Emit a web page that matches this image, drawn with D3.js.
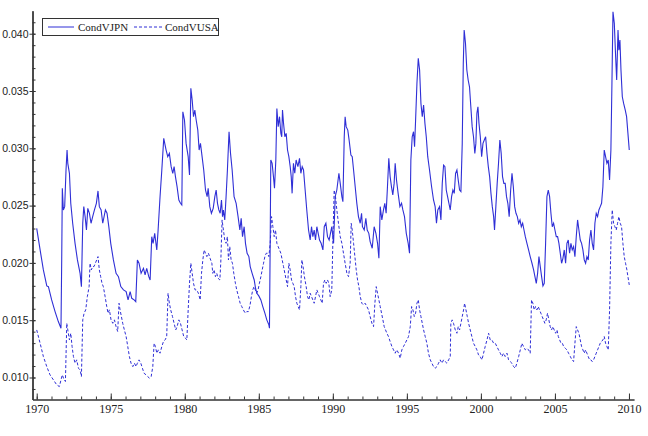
<!DOCTYPE html>
<html><head><meta charset="utf-8">
<script src="https://cdn.jsdelivr.net/npm/d3@7"></script>
<style>body{margin:0;background:#fff}svg{display:block}</style>
</head><body><svg id="c" width="648" height="436"></svg>
<script>
const seriesNames = ["CondVJPN", "CondVUSA"];
const xTickYears = [1970, 1975, 1980, 1985, 1990, 1995, 2000, 2005, 2010];
const yTickValues = [0.010, 0.015, 0.020, 0.025, 0.030, 0.035, 0.040];

const condVJPN = [
[1970.00,0.02302],[1970.23,0.02113],[1970.45,0.01939],[1970.68,0.01799],[1970.79,0.01793],[1971.01,0.01677],[1971.24,0.01575],[1971.46,0.01488],[1971.64,0.01430],[1971.69,0.02040],[1971.73,0.02651],[1971.80,0.02462],[1971.89,0.02491],[1971.98,0.02811],[1972.05,0.02985],[1972.10,0.02869],[1972.21,0.02782],[1972.30,0.02520],[1972.43,0.02346],[1972.59,0.02171],[1972.75,0.02026],[1972.93,0.01909],[1973.02,0.01793],
[1973.11,0.02346],[1973.18,0.02491],[1973.27,0.02404],[1973.36,0.02287],[1973.45,0.02476],[1973.56,0.02433],[1973.67,0.02346],[1973.78,0.02404],[1973.90,0.02462],[1974.03,0.02520],[1974.14,0.02628],[1974.23,0.02491],[1974.35,0.02462],[1974.46,0.02346],[1974.55,0.02404],[1974.64,0.02462],[1974.75,0.02433],[1974.87,0.02316],[1975.00,0.02171],[1975.18,0.02026],[1975.36,0.01909],[1975.52,0.01880],[1975.68,0.01793],[1975.86,0.01764],[1976.04,0.01750],[1976.17,0.01677],[1976.31,0.01750],[1976.42,0.01691],[1976.58,0.01677],[1976.69,0.01662],
[1976.80,0.02026],[1976.91,0.01997],[1977.05,0.01909],[1977.21,0.01953],[1977.32,0.01895],[1977.43,0.01953],[1977.57,0.01880],[1977.66,0.01851],[1977.77,0.02229],[1977.86,0.02171],[1977.97,0.02258],[1978.11,0.02113],[1978.20,0.02287],[1978.33,0.02578],[1978.45,0.02811],[1978.58,0.03087],[1978.74,0.02985],[1978.85,0.02927],[1978.96,0.02956],[1979.08,0.02840],[1979.19,0.02782],[1979.28,0.02840],[1979.37,0.02753],[1979.48,0.02665],[1979.60,0.02549],[1979.71,0.02520],[1979.80,0.02505],
[1979.87,0.03319],[1979.98,0.03247],[1980.09,0.03043],[1980.23,0.02927],[1980.32,0.02767],[1980.41,0.03523],[1980.50,0.03421],[1980.59,0.03276],[1980.68,0.03334],[1980.77,0.03247],[1980.88,0.03159],[1980.97,0.02985],[1981.06,0.03043],[1981.17,0.02927],[1981.28,0.02811],[1981.40,0.02636],[1981.51,0.02578],[1981.58,0.02651],[1981.69,0.02491],[1981.80,0.02433],[1981.92,0.02476],[1982.03,0.02578],[1982.12,0.02636],[1982.21,0.02520],[1982.30,0.02462],[1982.39,0.02433],[1982.48,0.02549],[1982.55,0.02404],[1982.61,0.02462],[1982.70,0.02375],[1982.79,0.02578],[1982.88,0.02811],[1982.99,0.03145],
[1983.09,0.02956],[1983.20,0.02811],[1983.33,0.02578],[1983.47,0.02520],[1983.60,0.02404],[1983.72,0.02287],[1983.81,0.02389],[1983.90,0.02229],[1984.01,0.02316],[1984.10,0.02171],[1984.21,0.02084],[1984.33,0.02055],[1984.42,0.01968],[1984.55,0.01909],[1984.69,0.01851],[1984.78,0.01779],[1984.87,0.01735],[1985.00,0.01712],[1985.14,0.01677],[1985.27,0.01619],[1985.41,0.01561],[1985.54,0.01503],[1985.68,0.01459],[1985.72,0.01430],
[1985.77,0.02200],[1985.81,0.02898],[1985.90,0.02869],[1985.99,0.02753],[1986.06,0.02651],[1986.15,0.02898],[1986.22,0.03348],[1986.31,0.03189],[1986.40,0.03276],[1986.49,0.03130],[1986.55,0.03101],[1986.60,0.03334],[1986.67,0.03218],[1986.76,0.03101],[1986.85,0.03130],[1986.94,0.02985],[1987.03,0.02927],[1987.12,0.02840],[1987.19,0.02753],[1987.25,0.02607],[1987.34,0.02869],[1987.43,0.02782],[1987.52,0.02898],[1987.64,0.02840],[1987.75,0.02912],[1987.84,0.02782],[1987.93,0.02840],[1988.02,0.02811],[1988.13,0.02636],[1988.24,0.02462],[1988.36,0.02287],[1988.47,0.02200],[1988.56,0.02316],[1988.65,0.02229],[1988.74,0.02287],[1988.83,0.02200],[1988.92,0.02316],[1989.01,0.02258],[1989.10,0.02200],[1989.21,0.02171],[1989.33,0.02113],[1989.42,0.02316],[1989.53,0.02346],[1989.64,0.02229],[1989.75,0.02200],
[1989.93,0.02316],[1990.05,0.02171],[1990.16,0.02578],[1990.27,0.02636],[1990.41,0.02782],[1990.50,0.02694],[1990.61,0.02578],[1990.68,0.02534],[1990.77,0.03101],[1990.83,0.03276],[1990.90,0.03189],[1991.01,0.03159],[1991.10,0.03072],[1991.22,0.02941],[1991.31,0.02927],[1991.40,0.02811],[1991.51,0.02665],[1991.62,0.02520],[1991.73,0.02404],[1991.85,0.02346],[1991.94,0.02433],[1992.00,0.02316],[1992.12,0.02287],[1992.23,0.02389],[1992.32,0.02287],[1992.43,0.02258],[1992.52,0.02186],[1992.66,0.02128],[1992.79,0.02316],[1992.91,0.02258],[1993.02,0.02171],[1993.11,0.02040],
[1993.20,0.02491],[1993.31,0.02375],[1993.42,0.02462],[1993.51,0.02520],[1993.60,0.02433],[1993.69,0.02665],[1993.78,0.02912],[1993.87,0.02753],[1993.96,0.02665],[1994.05,0.02593],[1994.14,0.02694],[1994.21,0.02869],[1994.30,0.02723],[1994.41,0.02607],[1994.53,0.02491],[1994.64,0.02520],[1994.73,0.02462],[1994.84,0.02404],[1994.96,0.02258],[1995.09,0.02171],[1995.18,0.02084],
[1995.27,0.02898],[1995.36,0.03101],[1995.45,0.03145],[1995.52,0.03014],[1995.59,0.03247],[1995.68,0.03566],[1995.77,0.03785],[1995.86,0.03683],[1995.95,0.03392],[1996.04,0.03276],[1996.13,0.03377],[1996.22,0.03218],[1996.31,0.03101],[1996.41,0.02927],[1996.53,0.02811],[1996.67,0.02665],[1996.80,0.02549],[1996.91,0.02491],[1997.00,0.02346],[1997.09,0.02462],[1997.21,0.02491],[1997.30,0.02375],[1997.39,0.02694],[1997.48,0.02854],[1997.57,0.02840],[1997.66,0.02636],[1997.75,0.02578],[1997.84,0.02520],[1997.93,0.02462],[1998.02,0.02578],[1998.11,0.02636],[1998.20,0.02607],[1998.29,0.02782],[1998.38,0.02811],[1998.47,0.02723],[1998.56,0.02636],[1998.65,0.02622],
[1998.74,0.03043],[1998.81,0.03741],[1998.87,0.04032],[1998.96,0.03915],[1999.05,0.03683],[1999.14,0.03596],[1999.23,0.03537],[1999.32,0.03363],[1999.41,0.03189],[1999.50,0.03101],[1999.59,0.02956],[1999.66,0.03043],[1999.73,0.03305],[1999.80,0.03363],[1999.87,0.03218],[1999.96,0.03101],[2000.05,0.02927],[2000.14,0.03043],[2000.23,0.03072],[2000.32,0.03101],[2000.41,0.02956],[2000.50,0.02840],[2000.59,0.02753],[2000.68,0.02607],[2000.77,0.02491],[2000.86,0.02404],[2000.92,0.02287],[2001.01,0.02491],[2001.10,0.02694],[2001.19,0.02869],[2001.28,0.03072],[2001.37,0.02956],[2001.46,0.02753],[2001.55,0.02694],[2001.64,0.02694],[2001.73,0.02578],[2001.82,0.02520],[2001.91,0.02404],[2002.01,0.02636],[2002.10,0.02782],[2002.19,0.02665],[2002.28,0.02491],[2002.37,0.02433],[2002.46,0.02404],[2002.55,0.02346],[2002.64,0.02375],[2002.73,0.02316],[2002.82,0.02346],[2002.91,0.02287],
[2003.00,0.02229],[2003.11,0.02171],[2003.22,0.02113],[2003.33,0.02055],[2003.45,0.01997],[2003.56,0.01939],[2003.65,0.01880],[2003.74,0.01822],[2003.83,0.01909],[2003.92,0.02055],[2004.01,0.01968],[2004.10,0.01880],[2004.19,0.01799],[2004.28,0.01822],[2004.37,0.02171],[2004.46,0.02578],[2004.55,0.02636],[2004.64,0.02578],[2004.73,0.02433],[2004.82,0.02316],[2004.91,0.02346],[2005.00,0.02287],[2005.09,0.02229],[2005.18,0.02229],[2005.27,0.02171],[2005.36,0.02084],[2005.45,0.01997],[2005.54,0.02040],[2005.63,0.02113],[2005.72,0.01997],[2005.81,0.02171],[2005.90,0.02200],[2005.99,0.02084],[2006.08,0.02171],[2006.17,0.02113],[2006.26,0.02142],[2006.35,0.02055],[2006.44,0.02229],[2006.53,0.02375],[2006.62,0.02287],[2006.71,0.02200],[2006.80,0.02171],[2006.89,0.02113],[2006.98,0.02026],[2007.07,0.01997],[2007.16,0.02055],[2007.25,0.02026],[2007.34,0.02200],[2007.43,0.02287],[2007.52,0.02171],[2007.61,0.02113],[2007.70,0.02346],[2007.79,0.02433],[2007.88,0.02404],[2007.97,0.02462],
[2008.06,0.02491],[2008.15,0.02520],[2008.24,0.02665],[2008.33,0.02985],[2008.42,0.02927],[2008.51,0.02869],[2008.60,0.02898],[2008.69,0.02723],[2008.78,0.02985],[2008.85,0.03566],[2008.92,0.04191],[2009.01,0.04090],[2009.10,0.03799],[2009.17,0.03596],[2009.26,0.04032],[2009.32,0.03857],[2009.39,0.03944],[2009.46,0.03683],[2009.55,0.03450],[2009.64,0.03392],[2009.75,0.03334],[2009.84,0.03276],[2009.93,0.03130],[2010.02,0.02985]
];

const condVUSA = [
[1970.00,0.01415],[1970.23,0.01299],[1970.45,0.01183],[1970.68,0.01095],[1970.90,0.01023],[1971.13,0.00979],[1971.35,0.00936],[1971.53,0.00921],[1971.64,0.00979],[1971.73,0.01023],[1971.85,0.00979],[1971.94,0.00965],[1972.03,0.01473],[1972.10,0.01415],[1972.21,0.01328],[1972.30,0.01386],[1972.39,0.01270],[1972.48,0.01183],[1972.59,0.01125],[1972.70,0.01154],[1972.82,0.01081],[1972.93,0.01066],[1973.02,0.01008],
[1973.11,0.01503],[1973.20,0.01561],[1973.31,0.01590],[1973.42,0.01706],[1973.54,0.01793],[1973.60,0.01997],[1973.69,0.01939],[1973.78,0.01968],[1973.87,0.01968],[1973.96,0.01997],[1974.05,0.02026],[1974.14,0.02055],[1974.23,0.01939],[1974.32,0.01880],[1974.41,0.01822],[1974.50,0.01793],[1974.62,0.01706],[1974.73,0.01619],[1974.82,0.01561],[1974.91,0.01590],[1975.02,0.01503],[1975.14,0.01473],[1975.25,0.01503],[1975.36,0.01444],[1975.47,0.01401],[1975.56,0.01648],[1975.63,0.01590],[1975.72,0.01532],[1975.81,0.01473],[1975.92,0.01415],
[1976.04,0.01357],[1976.15,0.01270],[1976.26,0.01183],[1976.37,0.01125],[1976.49,0.01095],[1976.60,0.01125],[1976.71,0.01095],[1976.80,0.01125],[1976.91,0.01154],[1977.03,0.01125],[1977.14,0.01081],[1977.25,0.01037],[1977.39,0.01023],[1977.50,0.01008],[1977.61,0.00994],[1977.73,0.01008],[1977.84,0.01095],[1977.93,0.01299],[1978.02,0.01270],[1978.11,0.01212],[1978.22,0.01241],[1978.33,0.01212],[1978.45,0.01270],[1978.56,0.01314],[1978.67,0.01328],[1978.78,0.01357],[1978.87,0.01735],[1978.96,0.01648],[1979.05,0.01590],[1979.17,0.01532],[1979.28,0.01473],[1979.39,0.01415],[1979.48,0.01444],[1979.60,0.01503],[1979.71,0.01473],[1979.82,0.01415],[1979.93,0.01357],
[1980.05,0.01343],[1980.14,0.01328],[1980.23,0.01590],[1980.32,0.01822],[1980.41,0.01997],[1980.50,0.01909],[1980.59,0.01822],[1980.70,0.01764],[1980.81,0.01764],[1980.92,0.01735],[1981.04,0.01677],[1981.13,0.01909],[1981.22,0.02026],[1981.31,0.02113],[1981.40,0.02084],[1981.49,0.02055],[1981.60,0.02084],[1981.71,0.02040],[1981.83,0.01997],[1981.89,0.01909],[1981.98,0.01939],[1982.07,0.01880],[1982.16,0.01909],[1982.25,0.01866],[1982.37,0.01851],[1982.43,0.01997],[1982.52,0.02375],[1982.61,0.02287],[1982.70,0.02200],[1982.79,0.02171],[1982.88,0.02229],[1982.95,0.02026],
[1983.04,0.02142],[1983.13,0.02026],[1983.22,0.01997],[1983.31,0.01909],[1983.42,0.01822],[1983.51,0.01764],[1983.63,0.01706],[1983.74,0.01648],[1983.85,0.01619],[1983.96,0.01590],[1984.08,0.01561],[1984.19,0.01575],[1984.30,0.01575],[1984.41,0.01633],[1984.50,0.01706],[1984.59,0.01764],[1984.68,0.01793],[1984.77,0.01764],[1984.86,0.01735],[1984.95,0.01764],[1985.04,0.01822],[1985.14,0.01880],[1985.23,0.01939],[1985.32,0.01997],[1985.41,0.02055],[1985.50,0.02084],[1985.59,0.02084],[1985.68,0.02055],[1985.77,0.02171],[1985.86,0.02404],[1985.95,0.02316],
[1986.04,0.02229],[1986.13,0.02287],[1986.22,0.02171],[1986.31,0.02142],[1986.40,0.02113],[1986.49,0.02084],[1986.58,0.02026],[1986.67,0.01968],[1986.76,0.01909],[1986.85,0.01851],[1986.94,0.01793],[1987.03,0.01997],[1987.12,0.01939],[1987.21,0.01851],[1987.30,0.01822],[1987.39,0.01793],[1987.48,0.01706],[1987.57,0.01648],[1987.66,0.01619],[1987.75,0.01590],[1987.84,0.01793],[1987.91,0.02026],[1987.99,0.01968],[1988.08,0.01880],[1988.20,0.01793],[1988.29,0.01706],[1988.38,0.01677],[1988.47,0.01735],[1988.56,0.01706],[1988.65,0.01677],[1988.74,0.01648],[1988.83,0.01706],[1988.92,0.01764],[1989.01,0.01735],[1989.10,0.01706],[1989.19,0.01677],[1989.28,0.01648],[1989.37,0.01822],[1989.46,0.01851],[1989.55,0.01822],[1989.64,0.01851],[1989.73,0.01822],
[1989.82,0.01706],[1989.93,0.01764],[1990.00,0.02171],[1990.09,0.02636],[1990.18,0.02578],[1990.27,0.02462],[1990.38,0.02346],[1990.50,0.02229],[1990.61,0.02171],[1990.72,0.02084],[1990.83,0.01997],[1990.95,0.01909],[1991.06,0.01880],[1991.17,0.01997],[1991.24,0.02346],[1991.31,0.02287],[1991.40,0.02171],[1991.49,0.02055],[1991.58,0.01939],[1991.67,0.01851],[1991.76,0.01793],[1991.85,0.01706],[1991.96,0.01648],[1992.07,0.01633],[1992.18,0.01648],[1992.30,0.01619],[1992.41,0.01590],[1992.52,0.01532],[1992.64,0.01473],[1992.75,0.01444],[1992.84,0.01648],[1992.93,0.01793],
[1993.02,0.01735],[1993.11,0.01677],[1993.20,0.01619],[1993.29,0.01561],[1993.38,0.01503],[1993.47,0.01444],[1993.56,0.01415],[1993.65,0.01386],[1993.76,0.01357],[1993.87,0.01314],[1993.99,0.01270],[1994.10,0.01241],[1994.21,0.01212],[1994.32,0.01241],[1994.44,0.01212],[1994.55,0.01168],[1994.66,0.01241],[1994.77,0.01270],[1994.89,0.01299],[1995.00,0.01328],[1995.11,0.01357],[1995.23,0.01444],[1995.32,0.01619],[1995.41,0.01590],[1995.50,0.01532],[1995.59,0.01561],[1995.68,0.01648],[1995.77,0.01677],[1995.86,0.01590],[1995.95,0.01532],
[1996.04,0.01473],[1996.13,0.01415],[1996.24,0.01357],[1996.35,0.01299],[1996.46,0.01212],[1996.58,0.01154],[1996.69,0.01125],[1996.80,0.01095],[1996.91,0.01081],[1997.03,0.01095],[1997.14,0.01125],[1997.25,0.01154],[1997.37,0.01125],[1997.48,0.01154],[1997.59,0.01139],[1997.70,0.01125],[1997.82,0.01154],[1997.93,0.01183],[1997.97,0.01473],[1998.06,0.01503],[1998.15,0.01473],[1998.27,0.01415],[1998.38,0.01386],[1998.47,0.01444],[1998.56,0.01415],[1998.65,0.01473],[1998.74,0.01532],[1998.83,0.01590],[1998.90,0.01648],[1998.99,0.01590],
[1999.08,0.01532],[1999.17,0.01473],[1999.28,0.01415],[1999.39,0.01357],[1999.50,0.01299],[1999.62,0.01270],[1999.73,0.01241],[1999.84,0.01197],[1999.95,0.01183],[2000.07,0.01154],[2000.18,0.01212],[2000.29,0.01270],[2000.41,0.01328],[2000.52,0.01386],[2000.63,0.01328],[2000.74,0.01328],[2000.86,0.01299],[2000.97,0.01299],[2001.08,0.01270],[2001.19,0.01241],[2001.31,0.01212],[2001.42,0.01183],[2001.53,0.01212],[2001.64,0.01183],[2001.76,0.01212],[2001.87,0.01154],[2001.98,0.01139],[2002.09,0.01125],[2002.21,0.01095],[2002.32,0.01081],[2002.43,0.01125],[2002.55,0.01183],[2002.66,0.01241],[2002.77,0.01299],[2002.88,0.01270],[2003.00,0.01241],[2003.11,0.01255],[2003.22,0.01241],[2003.33,0.01212],
[2003.42,0.01677],[2003.51,0.01648],[2003.60,0.01590],[2003.69,0.01619],[2003.78,0.01590],[2003.87,0.01619],[2003.96,0.01590],[2004.05,0.01561],[2004.14,0.01532],[2004.23,0.01503],[2004.32,0.01473],[2004.41,0.01503],[2004.50,0.01561],[2004.59,0.01503],[2004.68,0.01444],[2004.77,0.01415],[2004.86,0.01444],[2004.95,0.01415],[2005.05,0.01386],[2005.14,0.01415],[2005.23,0.01357],[2005.32,0.01328],[2005.41,0.01299],[2005.50,0.01299],[2005.59,0.01270],[2005.70,0.01255],[2005.81,0.01241],[2005.92,0.01212],[2006.04,0.01183],[2006.15,0.01154],[2006.26,0.01139],
[2006.35,0.01299],[2006.44,0.01444],[2006.53,0.01415],[2006.62,0.01386],[2006.71,0.01328],[2006.80,0.01270],[2006.89,0.01241],[2006.98,0.01212],[2007.07,0.01241],[2007.16,0.01212],[2007.25,0.01183],[2007.34,0.01154],[2007.43,0.01154],[2007.52,0.01139],[2007.61,0.01154],[2007.70,0.01183],[2007.79,0.01212],[2007.88,0.01241],[2007.97,0.01270],[2008.06,0.01299],[2008.15,0.01314],[2008.24,0.01328],[2008.33,0.01357],[2008.42,0.01299],[2008.51,0.01270],[2008.60,0.01241],
[2008.69,0.01590],[2008.78,0.02171],[2008.87,0.02462],[2008.96,0.02346],[2009.05,0.02316],[2009.14,0.02287],[2009.23,0.02346],[2009.32,0.02404],[2009.41,0.02346],[2009.50,0.02316],[2009.59,0.02171],[2009.68,0.02055],[2009.77,0.01997],[2009.86,0.01939],[2009.93,0.01880],[2010.02,0.01808]
];

const lineColor = "#2f2fd6";
const svg = d3.select("#c");

const x = d3.scaleLinear().domain([1969.716, 2010.34]).range([32.5, 634]);
const y = d3.scaleLinear().domain([0.00808, 0.0420]).range([399.5, 10.8]);

// X axis: minor ticks (every year), then major labelled ticks
const gxMinor = svg.append("g").attr("transform", "translate(0,399.5)")
  .call(d3.axisBottom(x).tickValues(d3.range(1970, 2011)).tickSizeInner(-3).tickSizeOuter(0).tickFormat(""));
const gx = svg.append("g").attr("transform", "translate(0,399.5)")
  .call(d3.axisBottom(x).tickValues(xTickYears).tickSizeInner(-6).tickSizeOuter(0).tickPadding(5).tickFormat(d3.format("d")));
gx.selectAll("text").attr("font-family", "'Liberation Serif','Times New Roman',serif").attr("font-size", 12).attr("fill", "#222");

// Y axis
const minorY = d3.range(9, 42).map(d => d / 1000);
const gyMinor = svg.append("g").attr("transform", "translate(32.5,0)")
  .call(d3.axisLeft(y).tickValues(minorY).tickSizeInner(-3).tickSizeOuter(0).tickFormat(""));
const gyIn = svg.append("g").attr("transform", "translate(32.5,0)")
  .call(d3.axisLeft(y).tickValues(yTickValues).tickSizeInner(-3).tickSizeOuter(0).tickFormat(""));
const gy = svg.append("g").attr("transform", "translate(32.5,0)")
  .call(d3.axisLeft(y).tickValues(yTickValues).tickSizeInner(3).tickSizeOuter(0).tickPadding(1).tickFormat(d3.format(".3f")));
gy.selectAll("text").attr("font-family", "'Liberation Sans',Arial,sans-serif").attr("font-size", 10.5).attr("fill", "#222");

svg.selectAll(".domain, .tick line").attr("stroke", "#333");

// Series
const line = d3.line().x(d => x(d[0])).y(d => y(d[1]));
svg.append("path").datum(condVUSA).attr("d", line)
  .attr("fill", "none").attr("stroke", lineColor).attr("stroke-width", 1).attr("stroke-dasharray", "3,2");
svg.append("path").datum(condVJPN).attr("d", line)
  .attr("fill", "none").attr("stroke", lineColor).attr("stroke-width", 1.1);

// Legend
const lg = svg.append("g");
lg.append("rect").attr("x", 42.5).attr("y", 18.5).attr("width", 176).attr("height", 17)
  .attr("fill", "#fff").attr("stroke", "#333").attr("stroke-width", 1);
const legendItems = [
  {name: seriesNames[0], dash: null, x0: 48, x1: 74, tx: 78},
  {name: seriesNames[1], dash: "3,2", x0: 134, x1: 162, tx: 165}
];
legendItems.forEach(it => {
  lg.append("line").attr("x1", it.x0).attr("x2", it.x1).attr("y1", 27).attr("y2", 27)
    .attr("stroke", lineColor).attr("stroke-width", 1).attr("stroke-dasharray", it.dash);
  lg.append("text").attr("x", it.tx).attr("y", 31).text(it.name)
    .attr("font-family", "'Liberation Serif','Times New Roman',serif").attr("font-size", 11).attr("fill", "#222");
});
</script>
</body></html>
